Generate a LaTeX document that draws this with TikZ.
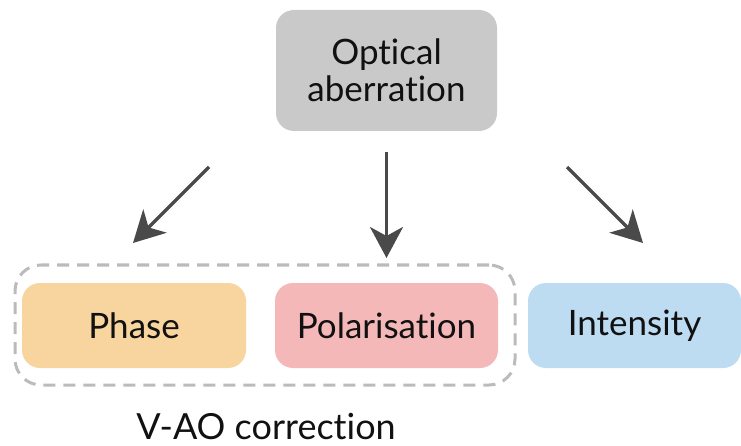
\documentclass[tikz,border=0pt]{standalone}
\usepackage{fontspec}
\setmainfont{Lato}[Ligatures={NoCommon,NoRare}]
\usetikzlibrary{arrows.meta}
\definecolor{optgray}{HTML}{C9C9C9}
\definecolor{phasecol}{HTML}{F8D49E}
\definecolor{polcol}{HTML}{F5B8B9}
\definecolor{intcol}{HTML}{BDDCF2}
\definecolor{arrcol}{HTML}{4A4A4A}
\definecolor{dashcol}{HTML}{BBBBBB}
\definecolor{txtcol}{HTML}{111111}
\tikzset{
  box/.style={rounded corners=18pt, inner sep=0pt, text=txtcol, font=\fontsize{35}{37}\selectfont, align=center},
  arr/.style={draw=arrcol, line width=3.5pt, -{Stealth[length=31pt,width=33pt,inset=9pt]}},
}
\begin{document}
\begin{tikzpicture}[x=1pt,y=-1pt]
\useasboundingbox (0,0) rectangle (741,446);
\clip (0,0) rectangle (741,446);
\node[box, fill=optgray, minimum width=221pt, minimum height=121pt] (opt) at (386.5,70.5) {Optical\\aberration};
\node[box, fill=phasecol, minimum width=224pt, minimum height=85pt] (phase) at (134,325.5) {Phase};
\node[box, fill=polcol, minimum width=223pt, minimum height=85pt] (pol) at (386.5,325.5) {Polarisation};
\node[box, fill=intcol, minimum width=213pt, minimum height=85pt] (int) at (634.5,325.5) {Intensity};
\node[draw=dashcol, line width=3pt, dash pattern=on 12pt off 8pt, rounded corners=26pt, minimum width=500pt, minimum height=120pt, inner sep=0pt] (vao) at (265,325) {};
\node[text=txtcol, font=\fontsize{36}{38}\selectfont, anchor=base, inner sep=0pt] (lbl) at (266,439) {V-AO correction};
\coordinate (a1s) at (209,167);
\coordinate (a1e) at (133,243);
\coordinate (a2s) at (386.5,152);
\coordinate (a2e) at (386.5,258);
\coordinate (a3s) at (567,167);
\coordinate (a3e) at (643,243);
\draw[arr] (a1s) -- (a1e);
\draw[arr] (a2s) -- (a2e);
\draw[arr] (a3s) -- (a3e);
\end{tikzpicture}
\end{document}
